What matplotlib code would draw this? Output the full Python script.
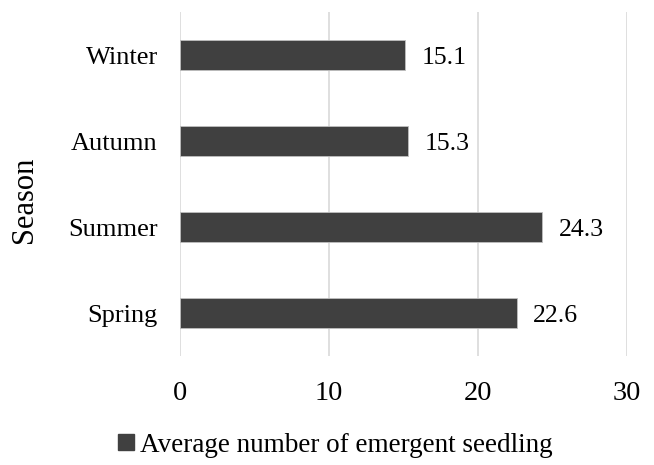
import matplotlib
matplotlib.use("Agg")
import matplotlib.pyplot as plt
from matplotlib.patches import Patch

seasons = ["Spring", "Summer", "Autumn", "Winter"]
values = [22.6, 24.3, 15.3, 15.1]
xticks = [0, 10, 20, 30]
series_name = "Average number of emergent seedling"

plt.rcParams['font.family'] = ['Liberation Serif', 'DejaVu Serif']

fig = plt.figure(figsize=(6.54, 4.65), dpi=100)
ax = fig.add_axes([180/654, 1 - 356/465, (627-180)/654, (356-12)/465])

bar_color = "#404040"
ax.barh(range(len(seasons)), values, height=0.34, color=bar_color,
        edgecolor="#bfbfbf", linewidth=0.6, zorder=3)
for i, v in enumerate(values):
    ax.text(v + 1.1, i, f"{v}", va="center_baseline", ha="left", fontsize=18.5, color="#000000")

ax.set_xlim(0, 30)
ax.set_ylim(-0.5, len(seasons) - 0.5)
ax.set_xticks(xticks)
ax.set_xticklabels([str(t) for t in xticks], fontsize=20.5)
ax.set_yticks(range(len(seasons)))
ax.set_yticklabels(seasons, fontsize=19)
for lbl in ax.get_yticklabels():
    lbl.set_verticalalignment("center_baseline")
ax.tick_params(axis="both", length=0)
ax.tick_params(axis="x", pad=18)
ax.tick_params(axis="y", pad=16)
ax.grid(axis="x", color="#d9d9d9", linewidth=1.2, zorder=0)
ax.set_axisbelow(True)
for s in ax.spines.values():
    s.set_visible(False)

fig.text(24/654, 1 - 200/465, "Season", rotation=90, fontsize=22, va="center", ha="center")

handle = Patch(facecolor=bar_color, edgecolor=bar_color)
fig.legend([handle], [series_name], loc="center", bbox_to_anchor=(335/654, 1 - 445/465),
           frameon=False, fontsize=19.5, handlelength=0.6, handleheight=0.5, handletextpad=0.2,
           borderpad=0, borderaxespad=0)

fig.savefig("out.png", dpi=100)
